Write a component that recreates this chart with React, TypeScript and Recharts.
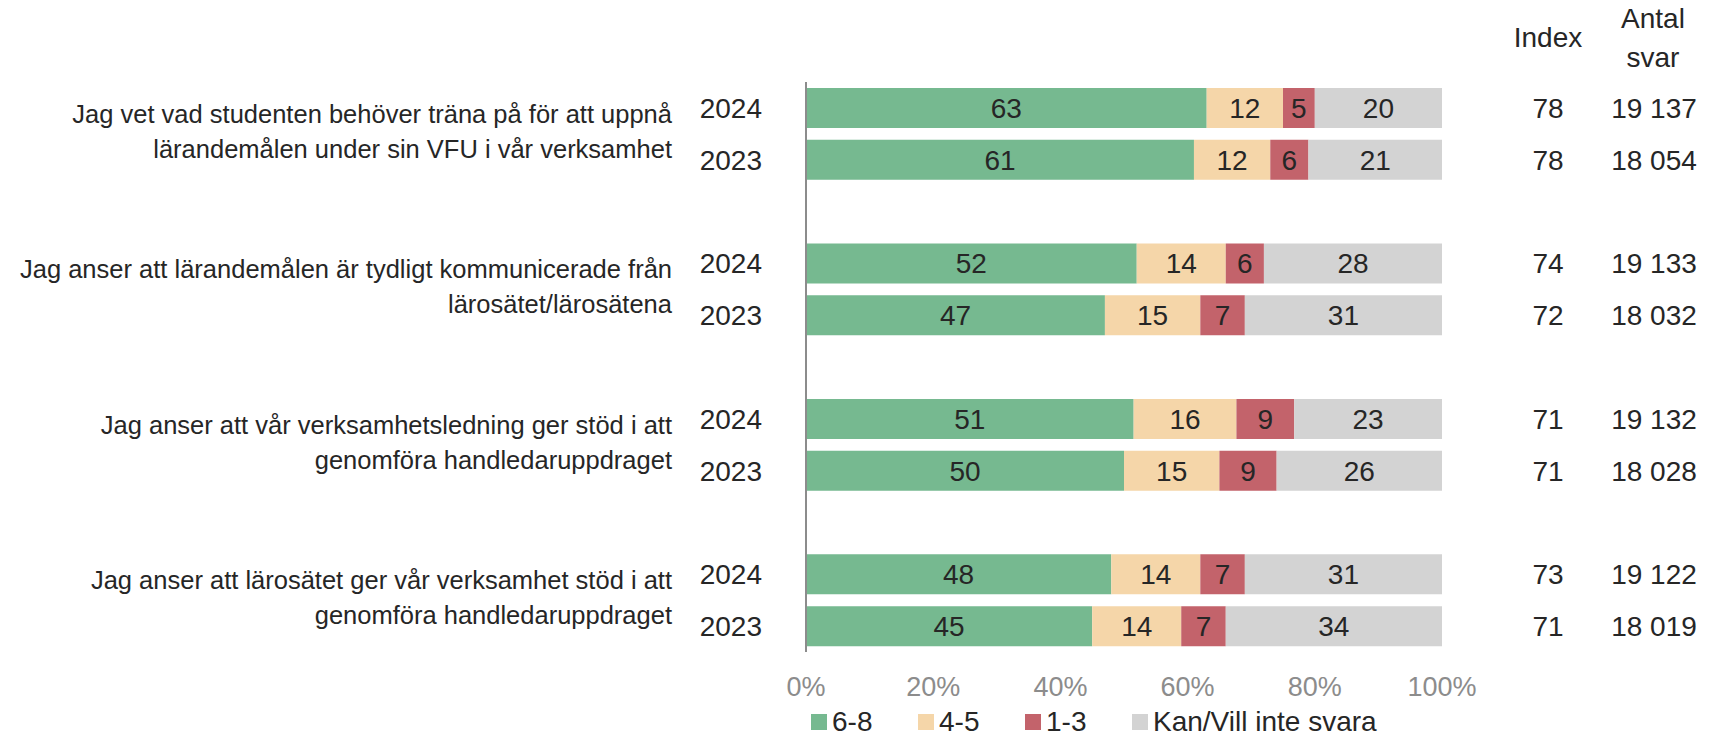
import React from "react";
import { BarChart, Bar, XAxis, YAxis, Legend, LabelList } from "recharts";

// question labels (two lines each) and survey years
const questions = [
  ["Jag vet vad studenten behöver träna på för att uppnå", "lärandemålen under sin VFU i vår verksamhet"],
  ["Jag anser att lärandemålen är tydligt kommunicerade från", "lärosätet/lärosätena"],
  ["Jag anser att vår verksamhetsledning ger stöd i att", "genomföra handledaruppdraget"],
  ["Jag anser att lärosätet ger vår verksamhet stöd i att", "genomföra handledaruppdraget"],
];
const years = ["2024", "2023"];
const seriesNames = ["6-8", "4-5", "1-3", "Kan/Vill inte svara"];

// shares per answer group, in %
const high2024 = [63, 52, 51, 48];
const high2023 = [61, 47, 50, 45];
const mid2024 = [12, 14, 16, 14];
const mid2023 = [12, 15, 15, 14];
const low2024 = [5, 6, 9, 7];
const low2023 = [6, 7, 9, 7];
const na2024 = [20, 28, 23, 31];
const na2023 = [21, 31, 26, 34];

const index2024 = [78, 74, 71, 73];
const index2023 = [78, 72, 71, 71];
const antal2024 = ["19 137", "19 133", "19 132", "19 122"];
const antal2023 = ["18 054", "18 032", "18 028", "18 019"];

const xTicks = [0, 0.2, 0.4, 0.6, 0.8, 1];

const FONT = "'Liberation Sans', Arial, sans-serif";
const TEXT = "#262626";
const GREY_TEXT = "#8c8c8c";

type Row = {
  key: string;
  year?: string;
  question?: string[];
  high?: number;
  mid?: number;
  low?: number;
  na?: number;
  index?: number;
  antal?: string;
};

// one row per bar, with an empty row between the questions
const rows: Row[] = [];
questions.forEach((q, i) => {
  rows.push({
    key: `q${i}-${years[0]}`,
    year: years[0],
    question: q,
    high: high2024[i],
    mid: mid2024[i],
    low: low2024[i],
    na: na2024[i],
    index: index2024[i],
    antal: antal2024[i],
  });
  rows.push({
    key: `q${i}-${years[1]}`,
    year: years[1],
    high: high2023[i],
    mid: mid2023[i],
    low: low2023[i],
    na: na2023[i],
    index: index2023[i],
    antal: antal2023[i],
  });
  if (i < questions.length - 1) rows.push({ key: `gap${i}` });
});
const rowByKey: Record<string, Row> = {};
rows.forEach((r) => (rowByKey[r.key] = r));

function RowTick(props: any) {
  const { x, y, payload } = props;
  const row = rowByKey[payload.value];
  return (
    <g fontFamily={FONT} fill={TEXT}>
      {payload.index === 0 && (
        <g fontSize={28} textAnchor="middle">
          <text x={1548} y={47}>Index</text>
          <text x={1653} y={28}>Antal</text>
          <text x={1653} y={67}>svar</text>
        </g>
      )}
      {row && row.year && (
        <g>
          <text x={x - 44} y={y + 10} textAnchor="end" fontSize={28}>
            {row.year}
          </text>
          {row.question &&
            row.question.map((line, i) => (
              <text key={i} x={x - 134} y={y + 15 + i * 35} textAnchor="end" fontSize={25.5}>
                {line}
              </text>
            ))}
          <text x={1548} y={y + 10} textAnchor="middle" fontSize={28}>
            {row.index}
          </text>
          <text x={1654} y={y + 10} textAnchor="middle" fontSize={28}>
            {row.antal}
          </text>
        </g>
      )}
    </g>
  );
}

function PctTick(props: any) {
  const { x, y, payload } = props;
  return (
    <text x={x} y={y + 44} textAnchor="middle" fontSize={27} fontFamily={FONT} fill={GREY_TEXT}>
      {`${Math.round(payload.value * 100)}%`}
    </text>
  );
}

function BarValue(props: any) {
  const { x, y, width, height, value } = props;
  if (value === undefined || value === null) return null;
  return (
    <text
      x={x + width / 2}
      y={y + height / 2 + 10}
      textAnchor="middle"
      fontSize={28}
      fontFamily={FONT}
      fill={TEXT}
    >
      {value}
    </text>
  );
}

function LegendContent(props: any) {
  const items = [...(props.payload || [])].sort(
    (a: any, b: any) => seriesNames.indexOf(a.value) - seriesNames.indexOf(b.value)
  );
  return (
    <div style={{ position: "relative", height: 40, fontFamily: FONT }}>
      {items.map((p: any, i: number) => (
        <div
          key={p.value}
          style={{
            position: "absolute",
            left: 811 + i * 107,
            top: 8,
            height: 32,
            display: "flex",
            alignItems: "center",
            whiteSpace: "nowrap",
          }}
        >
          <span style={{ display: "inline-block", width: 16, height: 16, background: p.color }} />
          <span style={{ marginLeft: 5, fontSize: 28, lineHeight: "32px", color: TEXT }}>{p.value}</span>
        </div>
      ))}
    </div>
  );
}

export default function App() {
  return (
    <div style={{ position: "absolute", left: 0, top: 0, background: "#fff" }}>
      <BarChart
        width={1717}
        height={738}
        data={rows}
        layout="vertical"
        stackOffset="expand"
        barSize={40}
        margin={{ top: 82, right: 275, bottom: 0, left: 0 }}
      >
        <XAxis
          type="number"
          domain={[0, 1]}
          ticks={xTicks}
          axisLine={false}
          tickLine={false}
          tickSize={0}
          tickMargin={0}
          height={46}
          tick={(p: any) => <PctTick {...p} />}
        />
        <YAxis
          type="category"
          dataKey="key"
          width={806}
          axisLine={{ stroke: "#8c8c8c", strokeWidth: 2 }}
          tickLine={false}
          tickSize={0}
          tickMargin={0}
          interval={0}
          tick={(p: any) => <RowTick {...p} />}
        />
        <Legend
          verticalAlign="bottom"
          content={(p: any) => <LegendContent {...p} />}
          wrapperStyle={{ left: 0, top: 698, width: 1717, height: 40 }}
        />
        <Bar dataKey="high" name={seriesNames[0]} stackId="s" fill="#76B990" isAnimationActive={false}>
          <LabelList dataKey="high" content={(p: any) => <BarValue {...p} />} />
        </Bar>
        <Bar dataKey="mid" name={seriesNames[1]} stackId="s" fill="#F5D6A9" isAnimationActive={false}>
          <LabelList dataKey="mid" content={(p: any) => <BarValue {...p} />} />
        </Bar>
        <Bar dataKey="low" name={seriesNames[2]} stackId="s" fill="#C3636B" isAnimationActive={false}>
          <LabelList dataKey="low" content={(p: any) => <BarValue {...p} />} />
        </Bar>
        <Bar dataKey="na" name={seriesNames[3]} stackId="s" fill="#D3D3D3" isAnimationActive={false}>
          <LabelList dataKey="na" content={(p: any) => <BarValue {...p} />} />
        </Bar>
      </BarChart>
    </div>
  );
}
